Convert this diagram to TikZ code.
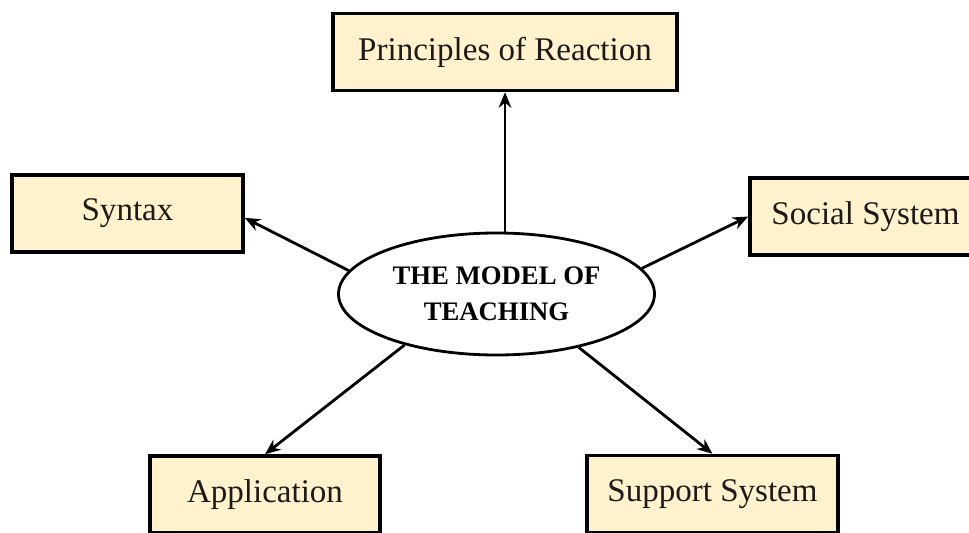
\documentclass[tikz,border=0pt]{standalone}
\usepackage{fontspec}
\setmainfont{Liberation Serif}
\usepackage{tikz}
\usepackage{xcolor}
\usetikzlibrary{arrows.meta, shapes.geometric, calc, positioning}

\definecolor{boxfill}{RGB}{255,242,204}
\definecolor{inkdark}{RGB}{30,26,26}

\begin{document}
\begin{tikzpicture}[
        conceptbox/.style={draw=black, fill=boxfill, line width=2.5pt, minimum height=1.925cm, text=inkdark, font=\fontsize{23.5}{28}\selectfont},
        centreell/.style={ellipse, draw=black, line width=2pt, minimum width=7.9cm, minimum height=3.05cm, align=center, font=\fontsize{19}{26}\selectfont\bfseries},
        >={Stealth[length=11pt, width=9pt]}
    ]
    \useasboundingbox (0, 0) rectangle (24.225, 13.3);

    \node[centreell] (model) at (12.4125, 5.95) {THE MODEL OF\\TEACHING};

    \node[conceptbox, minimum width=8.6cm] (reaction) at (12.625, 12.0) {Principles of Reaction};
    \node[conceptbox, minimum width=5.775cm] (syntax) at (3.1875, 7.9625) {Syntax};
    \node[conceptbox, minimum width=5.775cm] (social) at (21.6375, 7.8875) {Social System};
    \node[conceptbox, minimum width=5.75cm] (application) at (6.625, 0.9375) {Application};
    \node[conceptbox, minimum width=6.275cm] (support) at (17.8125, 0.95) {Support System};

    \draw[line width=2pt]
    (reaction.south |- model.north) edge[->] (reaction.south)
    (model.171.5) edge[->] ([yshift=-0.11cm]syntax.east)
    (model.10.2) edge[->] (social.west)
    (model.209.9) edge[->] (application.north)
    (model.327.5) edge[->] (support.north);
\end{tikzpicture}
\end{document}
